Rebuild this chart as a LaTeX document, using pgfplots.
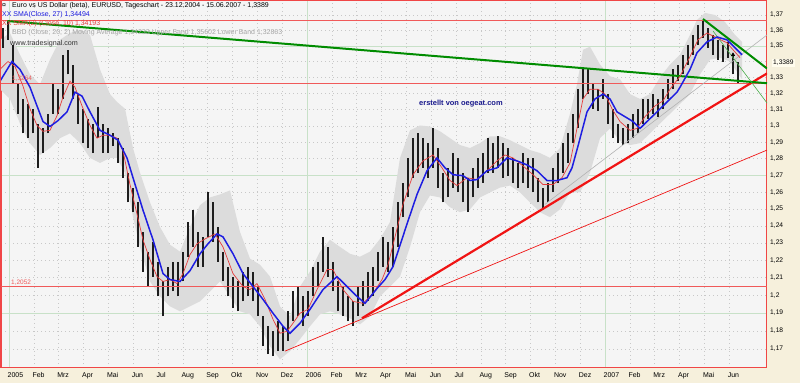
\documentclass[border=0pt]{standalone}
\usepackage{fontspec}
\setmainfont{Liberation Sans}
\usepackage{pgfplots}
\pgfplotsset{compat=1.18}
\usepgfplotslibrary{fillbetween}
\usepackage{pgfplotstable}
\definecolor{beige}{RGB}{246,240,220}
\definecolor{plotbg}{RGB}{245,245,245}
\definecolor{axred}{RGB}{240,70,70}
\definecolor{bandc}{RGB}{220,220,220}
\definecolor{barc}{RGB}{30,30,30}
\definecolor{smab}{RGB}{30,30,225}
\definecolor{smar}{RGB}{230,60,60}
\definecolor{tgreen}{RGB}{0,140,0}
\definecolor{tred}{RGB}{240,20,20}
\definecolor{hred}{RGB}{240,90,90}
\definecolor{gridgreen}{RGB}{200,225,200}
\definecolor{gridgray}{RGB}{200,200,200}
\definecolor{navy}{RGB}{25,25,140}
\definecolor{labelbg}{RGB}{255,252,238}

\pgfplotstableread{
i lo hi
0 1.3489 1.3616
1 1.3540 1.3668
2 1.3259 1.3508
3 1.3075 1.3259
4 1.2955 1.3167
5 1.2925 1.3136
6 1.2955 1.3106
7 1.2745 1.3015
8 1.2835 1.2985
9 1.2955 1.3075
10 1.3075 1.3259
11 1.3075 1.3228
12 1.3167 1.3445
13 1.3321 1.3477
14 1.3167 1.3383
15 1.3015 1.3197
16 1.2895 1.3106
17 1.2865 1.3045
18 1.2835 1.3015
19 1.2925 1.3118
20 1.2835 1.3015
21 1.2835 1.2985
22 1.2877 1.2955
23 1.2775 1.2925
24 1.2686 1.2865
25 1.2539 1.2716
26 1.2481 1.2627
27 1.2278 1.2539
28 1.2136 1.2365
29 1.2050 1.2250
30 1.2107 1.2307
31 1.1994 1.2192
32 1.1882 1.2079
33 1.1994 1.2164
34 1.2022 1.2192
35 1.1994 1.2192
36 1.2079 1.2250
37 1.2221 1.2423
38 1.2278 1.2493
39 1.2164 1.2365
40 1.2164 1.2336
41 1.2336 1.2598
42 1.2307 1.2539
43 1.2192 1.2394
44 1.2079 1.2250
45 1.1994 1.2164
46 1.1927 1.2107
47 1.1910 1.2079
48 1.1966 1.2136
49 1.1994 1.2164
50 1.1966 1.2136
51 1.1882 1.2050
52 1.1715 1.1882
53 1.1671 1.1826
54 1.1660 1.1798
55 1.1688 1.1854
56 1.1688 1.1826
57 1.1743 1.1910
58 1.1854 1.2022
59 1.1882 1.2050
60 1.1826 1.1994
61 1.1882 1.2022
62 1.1994 1.2164
63 1.2050 1.2192
64 1.2136 1.2336
65 1.2107 1.2278
66 1.2022 1.2192
67 1.1910 1.2079
68 1.1882 1.2050
69 1.1854 1.1994
70 1.1826 1.1966
71 1.1882 1.2050
72 1.1938 1.2079
73 1.1966 1.2136
74 1.1994 1.2164
75 1.2079 1.2250
76 1.2164 1.2336
77 1.2136 1.2307
78 1.2164 1.2394
79 1.2278 1.2539
80 1.2452 1.2657
81 1.2568 1.2805
82 1.2686 1.2925
83 1.2716 1.2955
84 1.2745 1.2925
85 1.2686 1.2895
86 1.2745 1.2985
87 1.2627 1.2865
88 1.2539 1.2716
89 1.2568 1.2745
90 1.2627 1.2835
91 1.2598 1.2805
92 1.2539 1.2716
93 1.2481 1.2686
94 1.2568 1.2745
95 1.2627 1.2805
96 1.2657 1.2835
97 1.2716 1.2925
98 1.2716 1.2895
99 1.2745 1.2937
100 1.2686 1.2895
101 1.2698 1.2865
102 1.2657 1.2805
103 1.2627 1.2775
104 1.2657 1.2835
105 1.2627 1.2805
106 1.2598 1.2805
107 1.2539 1.2686
108 1.2498 1.2627
109 1.2539 1.2657
110 1.2598 1.2745
111 1.2657 1.2835
112 1.2716 1.2895
113 1.2775 1.2955
114 1.2895 1.3075
115 1.2985 1.3228
116 1.3167 1.3352
117 1.3197 1.3364
118 1.3106 1.3259
119 1.3093 1.3228
120 1.3167 1.3290
121 1.3015 1.3197
122 1.2925 1.3106
123 1.2895 1.3015
124 1.2883 1.2985
125 1.2895 1.3015
126 1.2925 1.3075
127 1.2955 1.3106
128 1.3015 1.3167
129 1.3045 1.3167
130 1.3075 1.3197
131 1.3057 1.3167
132 1.3106 1.3228
133 1.3167 1.3290
134 1.3228 1.3352
135 1.3278 1.3383
136 1.3321 1.3445
137 1.3383 1.3508
138 1.3445 1.3571
139 1.3508 1.3635
140 1.3552 1.3668
141 1.3489 1.3616
142 1.3445 1.3571
143 1.3414 1.3540
144 1.3402 1.3508
145 1.3427 1.3527
146 1.3321 1.3445
147 1.3265 1.3402
}\bars

\begin{document}
\begin{tikzpicture}
\fill[beige] (766bp,-15bp) rectangle (799bp,368bp);
\fill[beige] (-1bp,-15bp) rectangle (799bp,0bp);
\begin{axis}[
  at={(0,0)}, anchor=south west, scale only axis,
  width=766bp, height=367.5bp,
  xmin=-0.4, xmax=152.8,
  ymode=log, ymin=1.1595, ymax=1.3794,
  axis background/.style={fill=plotbg},
  axis line style={draw=axred, line width=1.5bp},
  xtick={1.2,6.16667,...,146},
  xticklabels={2005,Feb,Mrz,Apr,Mai,Jun,Jul,Aug,Sep,Okt,Nov,Dez,2006,Feb,Mrz,Apr,Mai,Jun,Jul,Aug,Sep,Okt,Nov,Dez,2007,Feb,Mrz,Apr,Mai,Jun},
  minor x tick num=3,
  ytick={1.16,1.17,1.18,1.19,1.20,1.21,1.22,1.23,1.24,1.25,1.26,1.27,1.28,1.29,1.30,1.31,1.32,1.33,1.34,1.35,1.36,1.37},
  yticklabels={{},{1,17},{1,18},{1,19},{1,2},{1,21},{1,22},{1,23},{1,24},{1,25},{1,26},{1,27},{1,28},{1,29},{1,3},{1,31},{1,32},{1,33},{},{1,35},{1,36},{1,37}},
  xtick pos=left, ytick pos=right, yticklabel pos=right,
  tick align=outside,
  major tick length=3bp, minor tick length=1.5bp,
  tick style={black, line width=0.5bp},
  grid=major,
  major grid style={draw=gridgray, dash pattern=on 1bp off 3bp, line width=0.6bp},
  xticklabel style={font=\fontsize{7}{8}\selectfont, anchor=north west, inner sep=0pt, xshift=-1.5bp, yshift=-1.5bp},
  yticklabel style={font=\fontsize{6.7}{8}\selectfont, anchor=west, inner sep=0pt},
  extra x ticks={1.2,60.8,120.4}, extra x tick labels={},
  extra x tick style={grid=major, major grid style={draw=gridgreen, solid, line width=0.8bp}},
  extra y ticks={1.19,1.27,1.35}, extra y tick labels={},
  extra y tick style={grid=major, major grid style={draw=gridgreen, solid, line width=0.8bp}},
  clip=true,
]
% Bollinger band
\addplot[name path=bbu, draw=none, forget plot] coordinates {
(-0.6,1.3540) (1.4,1.3584) (3.4,1.3445) (5.4,1.3321) (7.4,1.3259) (9.4,1.3414) (11.4,1.3540) (13.4,1.3584) (15.4,1.3603) (17.4,1.3571) (19.4,1.3352) (21.4,1.3197) (22.8,1.3148) (24.4,1.3106) (26.0,1.2865) (27.4,1.2716) (29.4,1.2539) (31.4,1.2394) (33.4,1.2290) (35.4,1.2250) (37.4,1.2394) (39.4,1.2522) (41.4,1.2568) (43.4,1.2586) (45.4,1.2610) (47.4,1.2365) (49.4,1.2210) (51.4,1.2175) (53.4,1.2107) (55.4,1.1938) (57.4,1.1882) (59.4,1.2050) (61.4,1.2136) (63.4,1.2250) (65.4,1.2319) (67.4,1.2278) (69.4,1.2238) (71.4,1.2221) (73.4,1.2250) (75.4,1.2324) (77.4,1.2423) (79.4,1.2805) (81.4,1.2973) (83.4,1.3003) (85.4,1.2997) (87.4,1.2967) (89.4,1.2925) (91.4,1.2883) (93.4,1.2865) (95.4,1.2895) (97.4,1.2937) (99.4,1.2937) (101.4,1.2913) (103.4,1.2883) (105.4,1.2853) (107.4,1.2835) (109.4,1.2805) (111.4,1.2865) (113.4,1.3075) (114.8,1.3259) (116.0,1.3477) (117.4,1.3496) (119.4,1.3383) (121.4,1.3309) (123.4,1.3290) (125.4,1.3197) (127.4,1.3167) (129.4,1.3197) (131.4,1.3302) (133.4,1.3383) (135.4,1.3445) (137.4,1.3571) (138.8,1.3668) (140.4,1.3713) (142.4,1.3700) (144.4,1.3655) (146.4,1.3571) (147.8,1.3527)};
\addplot[name path=bbl, draw=none, forget plot] coordinates {
(-0.6,1.3228) (1.4,1.3167) (3.4,1.3015) (5.4,1.2895) (7.4,1.2823) (9.4,1.2865) (11.4,1.2925) (13.4,1.2955) (15.4,1.2895) (17.4,1.2805) (19.4,1.2775) (21.4,1.2805) (22.8,1.2805) (24.4,1.2716) (26.0,1.2452) (27.4,1.2278) (29.4,1.2079) (31.4,1.1994) (33.4,1.1938) (35.4,1.1910) (37.4,1.1938) (39.4,1.1966) (41.4,1.2022) (43.4,1.2079) (45.4,1.1994) (47.4,1.1910) (49.4,1.1893) (51.4,1.1826) (53.4,1.1715) (55.4,1.1643) (57.4,1.1688) (59.4,1.1754) (61.4,1.1826) (63.4,1.1893) (65.4,1.1910) (67.4,1.1893) (69.4,1.1871) (71.4,1.1837) (73.4,1.1882) (75.4,1.1994) (77.4,1.2050) (79.4,1.2107) (81.4,1.2278) (83.4,1.2481) (85.4,1.2580) (87.4,1.2568) (89.4,1.2510) (91.4,1.2481) (93.4,1.2498) (95.4,1.2568) (97.4,1.2598) (99.4,1.2627) (101.4,1.2639) (103.4,1.2598) (105.4,1.2539) (107.4,1.2481) (109.4,1.2452) (111.4,1.2498) (113.4,1.2598) (115.4,1.2598) (117.4,1.2716) (119.4,1.2925) (121.4,1.2985) (123.4,1.2907) (125.4,1.2883) (127.4,1.2895) (129.4,1.2955) (131.4,1.3015) (133.4,1.3075) (135.4,1.3136) (137.4,1.3197) (139.4,1.3321) (141.4,1.3414) (143.4,1.3427) (145.4,1.3402) (147.8,1.3290)};
\addplot[fill=bandc, draw=none, forget plot] fill between[of=bbu and bbl];
% price bars
\addplot[draw=none, mark=none, forget plot,
  error bars/.cd, y dir=plus, y explicit, error mark=none,
  error bar style={line width=2.9bp, draw=barc, solid}]
  table[x=i, y=lo, y error plus expr=\thisrow{hi}-\thisrow{lo}] {\bars};
% horizontal reference lines
\draw[hred, line width=0.8bp] (axis cs:-0.4,1.3667) -- (axis cs:152.8,1.3667);
\draw[hred, line width=0.8bp] (axis cs:-0.4,1.3264) -- (axis cs:152.8,1.3264);
\draw[hred, line width=0.8bp] (axis cs:-0.4,1.2052) -- (axis cs:152.8,1.2052);
% trend lines
\addplot[gray!60, line width=0.6bp, forget plot] coordinates {(108.4,1.2527) (152.8,1.3571)};
\addplot[tred, line width=0.7bp, forget plot] coordinates {(56.4,1.1688) (152.8,1.2853)};
\addplot[tred, line width=2.2bp, forget plot] coordinates {(71.8,1.1871) (152.8,1.3327)};
\addplot[tgreen, line width=2bp, forget plot] coordinates {(0.8,1.3661) (152.8,1.3265)};
\addplot[tgreen, line width=2bp, forget plot] coordinates {(140,1.3674) (152.8,1.3358)};
\addplot[tgreen!70, line width=0.6bp, forget plot] coordinates {(142,1.3597) (152.8,1.3142)};
% SMA 10
\addplot[smar, line width=0.7bp, forget plot] coordinates {
(-0.6,1.3352) (1.0,1.3402) (2.4,1.3371) (4.0,1.3247) (5.4,1.3106) (6.8,1.3003) (8.0,1.2967) (9.4,1.2973) (10.8,1.3063) (12.0,1.3179) (13.4,1.3278) (14.4,1.3240) (15.8,1.3124) (17.4,1.3003) (18.8,1.2925) (20.0,1.2943) (21.4,1.2943) (22.8,1.2925) (24.0,1.2847) (25.4,1.2645) (26.8,1.2470) (28.0,1.2319) (29.4,1.2204) (30.8,1.2107) (32.0,1.2079) (33.4,1.2090) (34.8,1.2067) (36.0,1.2124) (37.4,1.2233) (38.8,1.2296) (40.4,1.2324) (42.4,1.2353) (44.0,1.2278) (46.0,1.2124) (48.0,1.2050) (49.4,1.2033) (50.8,1.2067) (52.4,1.1977) (54.0,1.1865) (55.4,1.1787) (56.8,1.1798) (58.0,1.1843) (59.4,1.1899) (61.0,1.1921) (62.8,1.2033) (64.8,1.2147) (66.0,1.2147) (68.0,1.2033) (70.0,1.1966) (72.0,1.1955) (74.0,1.2011) (75.8,1.2090) (77.0,1.2175) (78.4,1.2336) (80.0,1.2527) (82.0,1.2704) (84.0,1.2787) (86.0,1.2823) (87.8,1.2745) (89.4,1.2669) (90.8,1.2639) (92.8,1.2686) (94.8,1.2675) (96.8,1.2728) (98.8,1.2787) (100.4,1.2823) (102.0,1.2805) (104.0,1.2757) (106.0,1.2704) (108.0,1.2645) (110.0,1.2645) (111.8,1.2686) (113.4,1.2775) (114.8,1.2985) (116.0,1.3167) (117.4,1.3228) (119.0,1.3228) (120.4,1.3197) (121.8,1.3106) (123.4,1.3027) (125.4,1.2973) (126.8,1.2985) (128.4,1.3057) (130.4,1.3124) (132.0,1.3155) (133.4,1.3228) (135.4,1.3309) (137.4,1.3433) (139.0,1.3540) (140.8,1.3584) (142.8,1.3552) (144.8,1.3521) (146.0,1.3477) (147.4,1.3427)};
% SMA 27
\addplot[smab, line width=1.5bp, forget plot] coordinates {
(-0.6,1.3278) (1.8,1.3402) (3.4,1.3352) (5.4,1.3240) (6.8,1.3124) (8.0,1.3027) (9.4,1.2997) (11.0,1.3033) (12.8,1.3087) (14.4,1.3209) (15.8,1.3185) (17.4,1.3087) (19.4,1.2973) (21.4,1.2943) (23.0,1.2913) (24.8,1.2805) (26.0,1.2686) (28.0,1.2493) (30.0,1.2319) (32.0,1.2124) (33.4,1.2090) (35.4,1.2079) (37.4,1.2141) (39.4,1.2238) (41.0,1.2296) (42.8,1.2353) (44.0,1.2336) (46.0,1.2238) (48.0,1.2124) (50.0,1.2050) (52.0,1.1977) (54.0,1.1899) (56.0,1.1826) (57.4,1.1787) (59.4,1.1843) (61.4,1.1921) (64.0,1.2033) (66.8,1.2107) (68.8,1.2050) (70.8,1.1994) (72.4,1.1955) (74.8,1.2039) (76.4,1.2090) (78.0,1.2164) (80.8,1.2412) (82.8,1.2586) (84.8,1.2728) (86.8,1.2805) (88.4,1.2745) (90.0,1.2704) (92.0,1.2698) (93.4,1.2669) (94.8,1.2675) (96.8,1.2728) (98.8,1.2745) (100.8,1.2805) (102.8,1.2787) (104.8,1.2763) (106.8,1.2728) (108.8,1.2669) (110.8,1.2669) (112.8,1.2686) (113.8,1.2745) (115.0,1.2877) (116.8,1.3087) (118.4,1.3167) (120.0,1.3197) (121.4,1.3167) (122.8,1.3087) (124.4,1.3057) (126.0,1.3027) (127.4,1.2985) (128.8,1.3027) (130.8,1.3087) (132.8,1.3148) (134.8,1.3209) (135.4,1.3240) (137.4,1.3352) (138.8,1.3458) (140.8,1.3527) (142.8,1.3558) (144.8,1.3540) (146.4,1.3489) (147.8,1.3445)};
\addplot[black, only marks, mark=triangle*, mark size=2bp, forget plot] coordinates {(146,1.3445)};
\end{axis}
\node[anchor=west, fill=labelbg, inner sep=1pt, font=\fontsize{6.7}{8}\selectfont] at (771bp,305bp) {1,3389};
\node[anchor=west, inner sep=0pt, font=\fontsize{7}{8}\selectfont] at (1bp,362bp) {¤};
\node[anchor=west, inner sep=0pt, font=\fontsize{7}{8}\selectfont] at (11bp,362bp) {Euro vs US Dollar (beta), EURUSD, Tageschart - 23.12.2004 - 15.06.2007 - 1,3389};
\node[anchor=west, inner sep=0pt, text=smab, font=\fontsize{7}{8}\selectfont] at (1bp,353bp) {XX SMA(Close, 27) 1,34494};
\node[anchor=west, inner sep=0pt, text=smar, font=\fontsize{7}{8}\selectfont] at (1bp,344bp) {XX SMA(2) (Close, 10) 1,34193};
\node[anchor=west, inner sep=0pt, text=black!35, font=\fontsize{7}{8}\selectfont] at (11bp,335bp) {BBD (Close, 20, 2) Moving Average 1,34233 Upper Band 1,35602 Lower Band 1,32863};
\node[anchor=west, inner sep=0pt, text=black!80, font=\fontsize{7.2}{8}\selectfont] at (9bp,324bp) {www.tradesignal.com};
\node[anchor=west, inner sep=0pt, text=navy, font=\bfseries\fontsize{7.5}{9}\selectfont] at (418bp,264bp) {erstellt von oegeat.com};
\node[anchor=west, inner sep=0pt, text=hred, font=\fontsize{6.5}{8}\selectfont] at (11bp,289bp) {1,3264};
\node[anchor=west, inner sep=0pt, text=hred, font=\fontsize{6.5}{8}\selectfont] at (10bp,85bp) {1,2052};
\pgfresetboundingbox
\path[use as bounding box] (-1bp,-15bp) rectangle (799bp,368bp);
\end{tikzpicture}
\end{document}
